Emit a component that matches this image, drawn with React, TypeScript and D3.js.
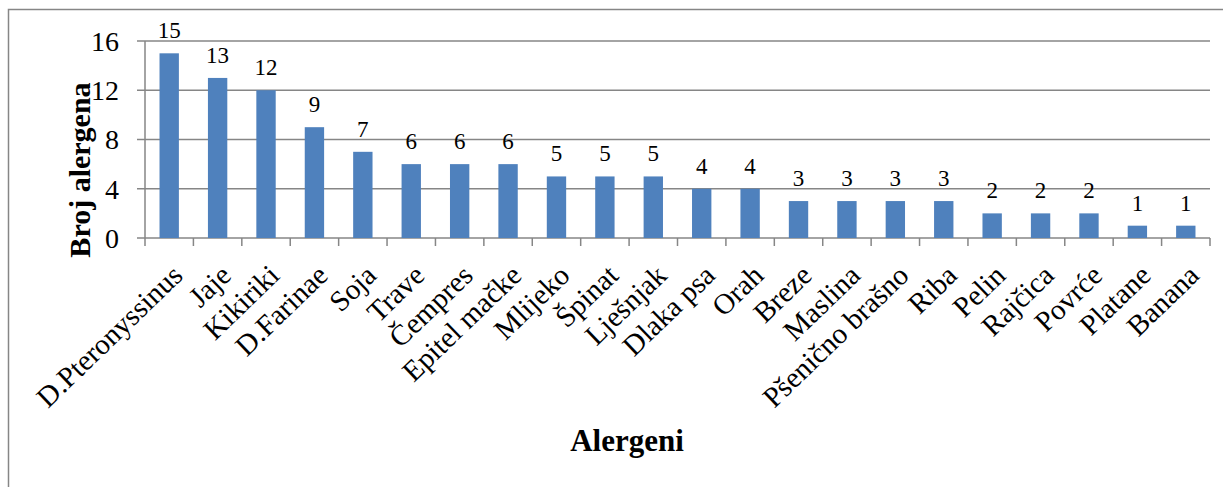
import React from 'react';
import * as d3 from 'd3';

const categories = [
  'D.Pteronyssinus', 'Jaje', 'Kikiriki', 'D.Farinae', 'Soja', 'Trave', 'Čempres',
  'Epitel mačke', 'Mlijeko', 'Špinat', 'Lješnjak', 'Dlaka psa', 'Orah', 'Breze',
  'Maslina', 'Pšenično brašno', 'Riba', 'Pelin', 'Rajčica', 'Povrće', 'Platane', 'Banana',
];
const values = [15, 13, 12, 9, 7, 6, 6, 6, 5, 5, 5, 4, 4, 3, 3, 3, 3, 2, 2, 2, 1, 1];
const yTicks = [0, 4, 8, 12, 16];

const W = 1223;
const H = 487;
const plot = { left: 145, right: 1210, top: 41, bottom: 238 };
const font = "'Liberation Serif', 'Times New Roman', 'DejaVu Serif', serif";
const grid = '#868686';

const App: React.FC = () => {
  const x = d3.scaleBand<string>()
    .domain(categories)
    .range([plot.left, plot.right])
    .paddingInner(0.6)
    .paddingOuter(0.3);

  const y = d3.scaleLinear().domain([0, 16]).range([plot.bottom, plot.top]);

  const step = x.step();
  const boundaries = d3.range(categories.length + 1).map(i => plot.left + i * step);

  return (
    <svg width={W} height={H} style={{ position: 'absolute', left: 0, top: 0, background: '#fff' }}>
      <rect x={8.5} y={9.5} width={1230} height={500} fill="#fff" stroke={grid} strokeWidth={1.5} />

      {/* gridlines + y ticks */}
      {yTicks.map(t => (
        <g key={t}>
          <line x1={plot.left - 8} x2={plot.right} y1={y(t)} y2={y(t)} stroke={grid} strokeWidth={1.5} />
          <text x={119} y={y(t)} dy="0.35em" textAnchor="end" fontSize={28} fontFamily={font}>{t}</text>
        </g>
      ))}
      <line x1={plot.left} x2={plot.left} y1={plot.top} y2={plot.bottom} stroke={grid} strokeWidth={1.5} />
      {boundaries.map((b, i) => (
        <line key={i} x1={b} x2={b} y1={plot.bottom} y2={plot.bottom + 8} stroke={grid} strokeWidth={1.5} />
      ))}

      {/* bars */}
      {categories.map((c, i) => (
        <g key={c}>
          <rect x={x(c)} y={y(values[i])} width={x.bandwidth()} height={y(0) - y(values[i])} fill="#4F81BD" />
          <text x={(x(c) as number) + x.bandwidth() / 2} y={y(values[i]) - 15} textAnchor="middle" fontSize={23}
            fontFamily={font}>
            {values[i]}
          </text>
        </g>
      ))}

      {/* category labels */}
      {categories.map(c => {
        const cx = (x(c) as number) + x.bandwidth() / 2;
        return (
          <text key={c} transform={`translate(${cx + 6},${268}) rotate(-44)`} textAnchor="end" dy="0.45em"
            fontSize={29} fontFamily={font}>
            {c}
          </text>
        );
      })}

      {/* axis titles */}
      <text transform="translate(90,170) rotate(-90)" textAnchor="middle" fontSize={30} fontWeight="bold"
        fontFamily={font}>Broj alergena</text>
      <text x={627} y={451} textAnchor="middle" fontSize={31} fontWeight="bold" fontFamily={font}>Alergeni</text>
    </svg>
  );
};

export default App;
